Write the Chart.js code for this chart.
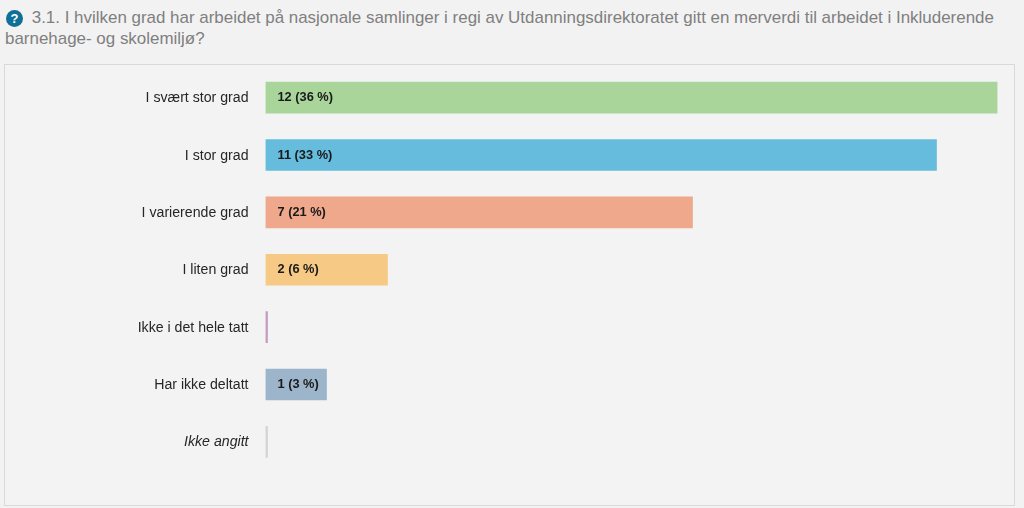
<!DOCTYPE html>
<html lang="no">
<head>
<meta charset="utf-8">
<script src="https://cdn.jsdelivr.net/npm/chart.js@4"></script>
<style>
html,body{margin:0;padding:0;width:1024px;height:508px;overflow:hidden;background:#f2f2f2;font-family:"Liberation Sans",Arial,sans-serif}
#title{position:absolute;left:5px;top:7px;width:1015px;font-size:16.96px;line-height:21px;color:#7f7f7f;letter-spacing:0}
#icon{display:inline-block;width:17px;height:17px;border-radius:50%;background:#0f6f96;color:#fff;font-weight:bold;font-size:13px;line-height:17px;text-align:center;margin:0 4px 0 1px;vertical-align:0px}
#box{position:absolute;left:4px;top:64px;width:1009px;height:440px;border:1px solid #d9d9d9;background:#f3f3f3}
canvas{display:block}
</style>
</head>
<body>
<div id="title"><span id="icon">?</span> 3.1. I hvilken grad har arbeidet på nasjonale samlinger i regi av Utdanningsdirektoratet gitt en merverdi til arbeidet i Inkluderende barnehage- og skolemiljø?</div>
<div id="box"><canvas id="c" width="1009" height="440"></canvas></div>
<script>
const categories = ["I svært stor grad","I stor grad","I varierende grad","I liten grad","Ikke i det hele tatt","Har ikke deltatt","Ikke angitt"];
const counts = [12,11,7,2,0,1,0];
const valueLabels = ["12 (36 %)","11 (33 %)","7 (21 %)","2 (6 %)","","1 (3 %)",""];
const barColors = ["#a9d59b","#66bcdd","#efa88b","#f6ca84","#c39bc0","#9cb5cb","#d3d3d3"];

const labelPlugin = {
  id:"valueLabels",
  afterDatasetsDraw(chart){
    const ctx = chart.ctx;
    const bars = chart.getDatasetMeta(0).data;
    ctx.save();
    ctx.font = "bold 12.8px 'Liberation Sans', Arial, sans-serif";
    ctx.fillStyle = "#1a1a1a";
    ctx.textBaseline = "middle";
    ctx.textAlign = "left";
    bars.forEach((b,i)=>{
      if(valueLabels[i]) ctx.fillText(valueLabels[i], b.base + 12, b.y);
    });
    ctx.restore();
  }
};

new Chart(document.getElementById("c"),{
  type:"bar",
  data:{labels:categories,datasets:[{data:counts,backgroundColor:barColors,borderWidth:0,barThickness:31,minBarLength:2}]},
  options:{
    indexAxis:"y",
    responsive:false,
    animation:false,
    layout:{padding:{top:4,bottom:34.5,left:0,right:16.5}},
    plugins:{legend:{display:false},tooltip:{enabled:false},title:{display:false}},
    scales:{
      x:{display:false,min:0,max:12,grid:{display:false}},
      y:{
        grid:{display:false,drawTicks:false},
        border:{display:false},
        afterFit(scale){scale.width = 260.5;scale.paddingTop = 0;scale.paddingBottom = 0;},
        ticks:{
          padding:17,
          labelOffset:0.7,
          color:"#262626",
          font:(c)=>({family:"'Liberation Sans', Arial, sans-serif",size:14.15,style:c.index===6?"italic":"normal"})
        }
      }
    }
  },
  plugins:[labelPlugin]
});
</script>
</body>
</html>
